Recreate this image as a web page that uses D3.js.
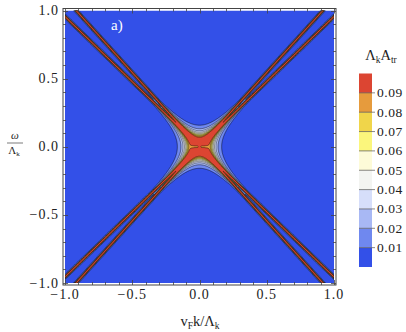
<!DOCTYPE html>
<html>
<head>
<meta charset="utf-8">
<script src="https://cdn.jsdelivr.net/npm/d3@7"></script>
<style>
  body { margin: 0; background: #fff; }
  svg { display: block; }
  svg text { font-family: 'Liberation Serif', 'Times New Roman', serif; fill: #222; }
</style>
</head>
<body>
<svg id="chart" width="406" height="332"></svg>
<script>
(function () {
  'use strict';

  // dispersion branches w = +-s*k
  var branchSlopes = [0.956, 1.09];
  var linePeak = 1.0;        // sharp peak on each branch
  var lineWidthPx = 0.2;     // half width of that peak, px
  var centrePeak = 0.122;    // broad weight around k = w = 0
  var centreWidth = 0.0084;
  var centreNarrowing = 5;
  var centreDip = 0.004;     // thin dip at w = 0
  var dipFloor = 0.085;

  var levels = [0.01, 0.02, 0.03, 0.04, 0.05, 0.06, 0.07, 0.08, 0.09];
  var bandColors = ['#3350e8', '#6f88ef', '#a8b8f4', '#d6defa', '#f3f4f1',
                    '#fdfbd8', '#fbf67c', '#f0d54a', '#e69b3d', '#dc4532'];
  var axisTicks = [-1, -0.5, 0, 0.5, 1];
  var colorTicks = [0.01, 0.02, 0.03, 0.04, 0.05, 0.06, 0.07, 0.08, 0.09];

  var svg = d3.select('#chart');
  var x = d3.scaleLinear().domain([-1, 1]).range([65, 334]);
  var y = d3.scaleLinear().domain([-1, 1]).range([283, 10.5]);
  var pxPerUnit = (x.range()[1] - x.range()[0]) / 2;

  function spectral(k, w) {
    var best = 0;
    var r2 = k * k + w * w;
    var dip = (w * w) / (w * w + centreDip * centreDip);
    branchSlopes.forEach(function (s) {
      // sharp branch
      [s, -s].forEach(function (sl) {
        var d = Math.abs(w - sl * k) / Math.sqrt(1 + sl * sl) * pxPerUnit / lineWidthPx;
        var v = linePeak / (1 + d * d);
        if (v > best) best = v;
      });
      // broad part near the crossing
      var u = (w * w - s * s * k * k) * (1 + centreNarrowing * r2) / centreWidth;
      var c = centrePeak / (1 + u * u);
      c = Math.max(c * dip, Math.min(c, dipFloor));
      if (c > best) best = c;
    });
    return best;
  }

  // sample grid at half pixel
  var step = 0.5;
  var x0 = x.range()[0], y0 = y.range()[1];
  var nx = Math.round((x.range()[1] - x0) / step);
  var ny = Math.round((y.range()[0] - y0) / step);
  var values = new Float64Array(nx * ny);
  for (var j = 0; j < ny; j++) {
    var w = y.invert(y0 + (j + 0.5) * step);
    for (var i = 0; i < nx; i++) {
      values[j * nx + i] = spectral(x.invert(x0 + (i + 0.5) * step), w);
    }
  }

  var contours = d3.contours().size([nx, ny]).thresholds(levels)(values);
  var gridToPx = d3.geoTransform({
    point: function (px, py) { this.stream.point(x0 + px * step, y0 + py * step); }
  });
  var path = d3.geoPath(gridToPx);

  svg.append('clipPath').attr('id', 'plot-clip')
    .append('rect')
    .attr('x', x0).attr('y', y0)
    .attr('width', x.range()[1] - x0).attr('height', y.range()[0] - y0);

  var plot = svg.append('g').attr('clip-path', 'url(#plot-clip)');
  plot.append('rect')
    .attr('x', x0).attr('y', y0)
    .attr('width', x.range()[1] - x0).attr('height', y.range()[0] - y0)
    .attr('fill', bandColors[0]);

  plot.selectAll('path.band')
    .data(contours)
    .enter()
    .append('path')
    .attr('class', 'band')
    .attr('d', path)
    .attr('fill', function (d, i) { return bandColors[i + 1]; })
    .attr('stroke', '#000')
    .attr('stroke-opacity', 0.75)
    .attr('stroke-width', 0.6);

  // frame
  var fx0 = 63, fx1 = 336, fy0 = 8.5, fy1 = 285;
  svg.append('rect')
    .attr('x', fx0).attr('y', fy0)
    .attr('width', fx1 - fx0).attr('height', fy1 - fy0)
    .attr('fill', 'none').attr('stroke', '#444').attr('stroke-width', 1);

  var minor = x.ticks(20);
  var ticks = svg.append('g').attr('stroke', '#444').attr('stroke-width', 0.8);
  minor.forEach(function (t) {
    var len = axisTicks.indexOf(t) >= 0 ? 5 : 3;
    var px = Math.round(x(t)) + 0.5, py = Math.round(y(t)) + 0.5;
    ticks.append('line').attr('x1', px).attr('x2', px).attr('y1', fy1).attr('y2', fy1 - len);
    ticks.append('line').attr('x1', px).attr('x2', px).attr('y1', fy0).attr('y2', fy0 + len);
    ticks.append('line').attr('y1', py).attr('y2', py).attr('x1', fx0).attr('x2', fx0 + len);
    ticks.append('line').attr('y1', py).attr('y2', py).attr('x1', fx1).attr('x2', fx1 - len);
  });

  function fmt(t) { return (t < 0 ? '\u2212' : '') + Math.abs(t).toFixed(1); }

  svg.append('g').selectAll('text')
    .data(axisTicks).enter().append('text')
    .attr('x', function (d) { return x(d); })
    .attr('y', 299)
    .attr('text-anchor', 'middle')
    .attr('font-size', 14)
    .attr('letter-spacing', 1)
    .text(fmt);

  svg.append('g').selectAll('text')
    .data(axisTicks).enter().append('text')
    .attr('x', 59)
    .attr('y', function (d) { return y(d) + 4.5; })
    .attr('text-anchor', 'end')
    .attr('font-size', 14)
    .attr('letter-spacing', 1)
    .text(fmt);

  // axis titles
  var xt = svg.append('text').attr('x', 200).attr('y', 326)
    .attr('text-anchor', 'middle').attr('font-size', 14.5);
  xt.append('tspan').text('v');
  xt.append('tspan').attr('font-size', 9.5).attr('dy', 3).text('F');
  xt.append('tspan').attr('dy', -3).text('k/\u039b');
  xt.append('tspan').attr('font-size', 9.5).attr('dy', 3).text('k');

  svg.append('text').attr('x', 15).attr('y', 139)
    .attr('text-anchor', 'middle').attr('font-size', 11)
    .attr('font-style', 'italic').text('\u03c9');
  svg.append('line').attr('x1', 7).attr('x2', 23).attr('y1', 143).attr('y2', 143)
    .attr('stroke', '#444').attr('stroke-width', 0.7);
  var yt = svg.append('text').attr('x', 14).attr('y', 154)
    .attr('text-anchor', 'middle').attr('font-size', 11);
  yt.append('tspan').text('\u039b');
  yt.append('tspan').attr('font-size', 7).attr('dy', 2).text('k');

  svg.append('text').attr('x', 111).attr('y', 30)
    .attr('font-size', 15).style('fill', '#fff').text('a)');

  // colour legend
  var cy = d3.scaleLinear().domain([0, 0.1]).range([267, 73.5]);
  var cx0 = 359, cx1 = 372;
  var bandEdges = [0].concat(levels, [0.1]);
  var legend = svg.append('g');
  legend.selectAll('rect')
    .data(bandColors).enter().append('rect')
    .attr('x', cx0).attr('width', cx1 - cx0)
    .attr('y', function (d, i) { return cy(bandEdges[i + 1]); })
    .attr('height', function (d, i) { return cy(bandEdges[i]) - cy(bandEdges[i + 1]); })
    .attr('fill', function (d) { return d; });
  legend.selectAll('line')
    .data(colorTicks).enter().append('line')
    .attr('x1', cx0).attr('x2', cx1 + 3)
    .attr('y1', function (d) { return cy(d); }).attr('y2', function (d) { return cy(d); })
    .attr('stroke', '#555').attr('stroke-width', 0.7);
  legend.selectAll('text')
    .data(colorTicks).enter().append('text')
    .attr('x', 377)
    .attr('y', function (d) { return cy(d) + 4.5; })
    .attr('font-size', 13.5)
    .attr('letter-spacing', 0.5)
    .text(function (d) { return d.toFixed(2); });

  var lt = svg.append('text').attr('x', 381).attr('y', 60)
    .attr('text-anchor', 'middle').attr('font-size', 14.5);
  lt.append('tspan').text('\u039b');
  lt.append('tspan').attr('font-size', 9.5).attr('dy', 3).text('k');
  lt.append('tspan').attr('dy', -3).text('A');
  lt.append('tspan').attr('font-size', 9.5).attr('dy', 3).text('tr');
})();
</script>
</body>
</html>
